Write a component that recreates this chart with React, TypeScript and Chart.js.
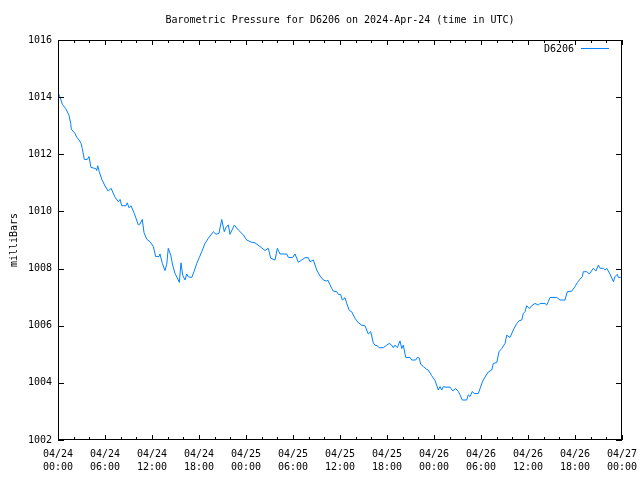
import React, { useEffect, useRef } from "react";
import { Chart, registerables } from "chart.js";

Chart.register(...registerables);

const TITLE = "Barometric Pressure for D6206 on 2024-Apr-24 (time in UTC)";
const SERIES_LABEL = "D6206";
const Y_LABEL = "milliBars";
const LINE_COLOR = "rgb(0,128,255)";
const FONT = "'DejaVu Sans Mono', monospace";

const X_TICK_DATES = ["04/24", "04/24", "04/24", "04/24", "04/25", "04/25", "04/25", "04/25", "04/26", "04/26", "04/26", "04/26", "04/27"];
const X_TICK_TIMES = ["00:00", "06:00", "12:00", "18:00", "00:00", "06:00", "12:00", "18:00", "00:00", "06:00", "12:00", "18:00", "00:00"];
const Y_MIN = 1002;
const Y_MAX = 1016;
const Y_STEP = 2;

// hours since 04/24 00:00 UTC
const HOURS = [
  0.0, 0.26, 0.55, 0.98, 1.4, 1.62, 1.7, 2.17, 2.39, 2.68, 2.94, 3.1, 3.36, 3.74, 3.96, 4.21, 4.81, 4.94, 5.07, 5.27,
  5.58, 6.0, 6.42, 6.77, 7.28, 7.7, 7.92, 8.13, 8.68, 8.85, 9.06, 9.32, 9.74, 10.25, 10.47, 10.76, 10.98, 11.32, 11.75, 12.17,
  12.47, 12.89, 13.02, 13.32, 13.66, 13.88, 14.08, 14.39, 14.64, 14.94, 15.36, 15.49, 15.7, 15.92, 16.21, 16.43, 16.63, 17.07, 17.36, 17.71,
  18.04, 18.35, 18.77, 19.19, 19.83, 20.17, 20.55, 20.9, 21.23, 21.45, 21.74, 21.96, 22.51, 23.02, 23.66, 24.09, 24.73, 25.15, 25.79, 26.43,
  26.85, 27.15, 27.7, 28.0, 28.34, 29.2, 29.4, 29.96, 30.26, 30.68, 31.11, 31.53, 31.95, 32.17, 32.59, 33.03, 33.45, 33.87, 34.3, 34.43,
  34.94, 35.15, 35.58, 35.78, 36.09, 36.3, 36.64, 36.86, 37.19, 37.49, 37.92, 38.34, 38.77, 39.19, 39.41, 39.61, 39.92, 40.25, 40.47, 40.76,
  40.98, 41.53, 41.96, 42.3, 42.6, 42.81, 43.02, 43.32, 43.66, 43.88, 44.08, 44.39, 44.94, 45.15, 45.67, 45.87, 46.12, 46.3, 46.64, 47.07,
  47.27, 47.71, 48.13, 48.55, 48.77, 48.99, 49.19, 49.41, 50.04, 50.39, 50.77, 51.11, 51.32, 51.61, 52.17, 52.38, 52.6, 52.89, 53.15, 53.66,
  53.88, 54.17, 54.51, 54.93, 55.37, 55.57, 56.01, 56.3, 56.64, 57.07, 57.28, 57.7, 58.13, 58.56, 58.85, 59.2, 59.4, 59.62, 59.83, 60.17,
  60.47, 60.9, 61.32, 61.53, 62.17, 62.39, 62.59, 62.81, 63.66, 64.09, 64.72, 65.02, 65.58, 66.0, 66.3, 66.64, 66.94, 67.06, 67.5, 67.83,
  68.34, 68.68, 68.98, 69.2, 69.62, 69.84, 70.05, 70.47, 70.9, 71.11, 71.4, 71.53, 71.83,
];

// pressure in millibars
const PRESSURE = [
  1014.15, 1014.0, 1013.75, 1013.6, 1013.37, 1013.08, 1012.88, 1012.73, 1012.6, 1012.5, 1012.38, 1012.2, 1011.82, 1011.82, 1011.92, 1011.54, 1011.5, 1011.43, 1011.6, 1011.39,
  1011.13, 1010.89, 1010.71, 1010.81, 1010.5, 1010.34, 1010.42, 1010.2, 1010.2, 1010.3, 1010.13, 1010.2, 1009.93, 1009.53, 1009.56, 1009.72, 1009.26, 1009.03, 1008.94, 1008.77,
  1008.42, 1008.42, 1008.51, 1008.18, 1007.93, 1008.15, 1008.71, 1008.47, 1008.12, 1007.83, 1007.6, 1007.52, 1008.2, 1007.77, 1007.6, 1007.81, 1007.71, 1007.69, 1007.89, 1008.18,
  1008.39, 1008.59, 1008.88, 1009.06, 1009.29, 1009.2, 1009.23, 1009.72, 1009.29, 1009.44, 1009.53, 1009.2, 1009.52, 1009.35, 1009.18, 1009.0, 1008.92, 1008.9, 1008.77, 1008.63,
  1008.71, 1008.36, 1008.3, 1008.71, 1008.51, 1008.51, 1008.39, 1008.39, 1008.51, 1008.22, 1008.3, 1008.38, 1008.38, 1008.24, 1008.3, 1007.95, 1007.74, 1007.6, 1007.56, 1007.6,
  1007.31, 1007.21, 1007.19, 1007.1, 1007.09, 1006.9, 1006.98, 1006.78, 1006.53, 1006.49, 1006.26, 1006.1, 1006.02, 1006.0, 1005.85, 1005.71, 1005.79, 1005.4, 1005.32, 1005.3,
  1005.23, 1005.23, 1005.32, 1005.38, 1005.32, 1005.23, 1005.32, 1005.23, 1005.47, 1005.2, 1005.32, 1004.89, 1004.89, 1004.8, 1004.8, 1004.89, 1004.87, 1004.65, 1004.57, 1004.47,
  1004.45, 1004.25, 1004.08, 1003.75, 1003.87, 1003.75, 1003.87, 1003.85, 1003.85, 1003.72, 1003.8, 1003.7, 1003.58, 1003.4, 1003.4, 1003.58, 1003.52, 1003.7, 1003.62, 1003.63,
  1003.8, 1004.03, 1004.2, 1004.38, 1004.45, 1004.68, 1004.71, 1005.09, 1005.2, 1005.38, 1005.67, 1005.59, 1005.85, 1006.08, 1006.17, 1006.2, 1006.43, 1006.49, 1006.7, 1006.6,
  1006.7, 1006.78, 1006.72, 1006.78, 1006.78, 1006.72, 1006.84, 1006.99, 1006.99, 1006.9, 1006.9, 1007.19, 1007.21, 1007.37, 1007.51, 1007.63, 1007.72, 1007.89, 1007.89, 1007.81,
  1008.01, 1007.92, 1008.12, 1008.01, 1008.01, 1007.95, 1008.01, 1007.81, 1007.54, 1007.72, 1007.8, 1007.69, 1007.69,
];

const framePlugin = {
  id: "gnuplotFrame",
  afterDatasetsDraw(chart: any) {
    const { ctx, chartArea, scales } = chart;
    const { left, right, top, bottom } = chartArea;
    ctx.save();
    ctx.strokeStyle = "#000";
    ctx.lineWidth = 1;
    ctx.beginPath();
    // y ticks (major only), inward on both sides
    for (let v = Y_MIN; v <= Y_MAX; v += Y_STEP) {
      const y = Math.round(scales.y.getPixelForValue(v)) + 0.5;
      ctx.moveTo(left, y);
      ctx.lineTo(left + 6, y);
      ctx.moveTo(right, y);
      ctx.lineTo(right - 6, y);
    }
    // x ticks: major every 6h, minor every 2h, inward on top and bottom
    for (let h = 0; h <= 72; h += 2) {
      const x = Math.round(scales.x.getPixelForValue(h)) + 0.5;
      const len = h % 6 === 0 ? 5 : 3;
      ctx.moveTo(x, bottom);
      ctx.lineTo(x, bottom - len);
      ctx.moveTo(x, top);
      ctx.lineTo(x, top + len);
    }
    ctx.stroke();
    ctx.strokeRect(left + 0.5, top + 0.5, right - left - 1, bottom - top - 1);

    // legend: label then line sample, top-right inside the plot
    const ds = chart.data.datasets[0];
    ctx.font = `10px ${FONT}`;
    ctx.fillStyle = "#000";
    ctx.textAlign = "right";
    ctx.textBaseline = "middle";
    ctx.fillText(ds.label, right - 48, top + 9);
    ctx.strokeStyle = ds.borderColor;
    ctx.beginPath();
    ctx.moveTo(right - 41, top + 8.5);
    ctx.lineTo(right - 13, top + 8.5);
    ctx.stroke();
    ctx.restore();
  },
};

export default function App() {
  const canvasRef = useRef<HTMLCanvasElement | null>(null);

  useEffect(() => {
    const canvas = canvasRef.current;
    if (!canvas) return;
    const chart = new Chart(canvas, {
      type: "line",
      data: {
        datasets: [
          {
            label: SERIES_LABEL,
            data: HOURS.map((h, i) => ({ x: h, y: PRESSURE[i] })),
            borderColor: LINE_COLOR,
            borderWidth: 1,
            pointRadius: 0,
            tension: 0,
            fill: false,
          },
        ],
      },
      options: {
        responsive: false,
        animation: false,
        devicePixelRatio: 1,
        layout: { padding: { left: 0, right: 18, top: 0, bottom: 0 } },
        plugins: {
          legend: { display: false },
          tooltip: { enabled: false },
          title: {
            display: true,
            text: TITLE,
            fullSize: false,
            color: "#000",
            font: { family: FONT, size: 10, weight: "normal", lineHeight: 1.2 },
            padding: { top: 14, bottom: 14 },
          },
        },
        scales: {
          x: {
            type: "linear",
            min: 0,
            max: 72,
            grid: { display: false, drawTicks: false },
            border: { display: false },
            ticks: {
              stepSize: 6,
              autoSkip: false,
              maxRotation: 0,
              minRotation: 0,
              padding: 8,
              color: "#000",
              font: { family: FONT, size: 10, lineHeight: 1.3 },
              callback: (value: any) => {
                const i = Math.round(Number(value) / 6);
                return [X_TICK_DATES[i], X_TICK_TIMES[i]];
              },
            },
            afterFit: (scale: any) => {
              scale.height = 40;
              scale.paddingLeft = 0;
              scale.paddingRight = 0;
            },
          },
          y: {
            type: "linear",
            min: Y_MIN,
            max: Y_MAX,
            grid: { display: false, drawTicks: false },
            border: { display: false },
            ticks: {
              stepSize: Y_STEP,
              padding: 6,
              color: "#000",
              font: { family: FONT, size: 10 },
              callback: (value: any) => String(value),
            },
            title: {
              display: true,
              text: Y_LABEL,
              color: "#000",
              font: { family: FONT, size: 10, lineHeight: 1.2 },
              padding: { top: 8, bottom: 0 },
            },
            afterFit: (scale: any) => {
              scale.width = 58;
              scale.paddingTop = 0;
              scale.paddingBottom = 0;
            },
          },
        },
      },
      plugins: [framePlugin],
    });
    return () => chart.destroy();
  }, []);

  return (
    <div style={{ position: "fixed", left: 0, top: 0, width: 640, height: 480, background: "#fff" }}>
      <canvas ref={canvasRef} width={640} height={480} />
    </div>
  );
}
